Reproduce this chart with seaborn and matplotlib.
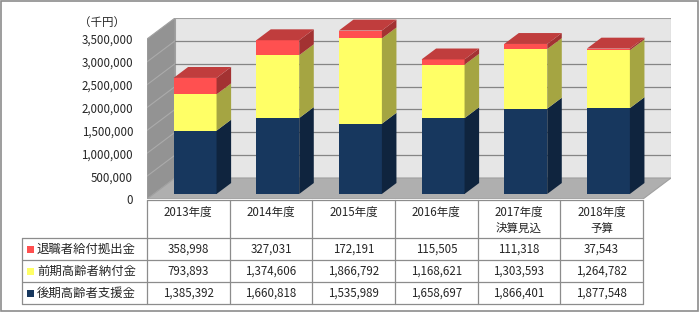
import numpy as np
import matplotlib
matplotlib.use("Agg")
import matplotlib.pyplot as plt
from matplotlib.patches import Polygon, Rectangle
import seaborn as sns

# data (千円)
years = ["2013年度", "2014年度", "2015年度", "2016年度", "2017年度\n決算見込", "2018年度\n予算"]
series_names = ["退職者給付拠出金", "前期高齢者納付金", "後期高齢者支援金"]
retire = [358998, 327031, 172191, 115505, 111318, 37543]
early = [793893, 1374606, 1866792, 1168621, 1303593, 1264782]
late = [1385392, 1660818, 1535989, 1658697, 1866401, 1877548]
y_ticks = [0, 500000, 1000000, 1500000, 2000000, 2500000, 3000000, 3500000]

# colours: front, side
c_front = {"retire": "#FF5050", "early": "#FFFF66", "late": "#17375E"}
c_side = {"retire": "#A33232", "early": "#A5A542", "late": "#0F243E"}
c_top = "#C03D3D"

sns.set_style("white")
plt.rcParams['font.family'] = ['Noto Sans CJK JP', 'DejaVu Sans']
FS = 8.3

fig = plt.figure(figsize=(7.0, 3.13), dpi=100)

# pseudo-3D geometry (depth in data units)
YMAX = 3500000
n = len(years)
px_x = 496 / n            # px per category
px_y = 160 / YMAX         # px per value
DX = 28 / px_x
DY = 21 / px_y
F0, F1 = 0.24, 0.76       # bar front / back depth fraction
BAR_W = 43 / px_x

ax = fig.add_axes([147 / 700, 1 - 199 / 313, (496 + 28) / 700, 181 / 313])
ax.set_zorder(2)
tab = fig.add_axes([0, 0, 1, 1])
tab.set_zorder(1)
tab.set_xlim(0, 700)
tab.set_ylim(313, 0)
tab.axis('off')

# stacked bars: draw cumulative totals, tallest first
cum1 = np.array(late)
cum2 = cum1 + np.array(early)
cum3 = cum2 + np.array(retire)
layers = []
for vals, key in [(cum3, "retire"), (cum2, "early"), (cum1, "late")]:
    n0 = len(ax.patches)
    sns.barplot(x=years, y=vals, color=c_front[key], saturation=1, width=BAR_W,
                linewidth=0, ax=ax, zorder=4)
    layers.append(ax.patches[n0:])

ax.set_xlim(-0.5, n - 0.5 + DX)
ax.set_ylim(0, YMAX + DY)

# shift bar fronts to the middle of the floor depth
for layer in layers:
    for p in layer:
        p.set_x(p.get_x() + F0 * DX)
        p.set_y(p.get_y() + F0 * DY)

bdx, bdy = (F1 - F0) * DX, (F1 - F0) * DY
segs = [(np.zeros(n), cum1, "late"), (cum1, cum2, "early"), (cum2, cum3, "retire")]
for i, p in enumerate(layers[0]):
    x0 = p.get_x()
    x1 = x0 + p.get_width()
    for bot, top, key in segs:
        b, t = bot[i] + F0 * DY, top[i] + F0 * DY
        ax.add_patch(Polygon([(x1, b), (x1 + bdx, b + bdy), (x1 + bdx, t + bdy), (x1, t)],
                             closed=True, facecolor=c_side[key], edgecolor='none', zorder=4))
    t = cum3[i] + F0 * DY
    ax.add_patch(Polygon([(x0, t), (x1, t), (x1 + bdx, t + bdy), (x0 + bdx, t + bdy)],
                         closed=True, facecolor=c_top, edgecolor='none', zorder=4))

# walls and floor
L, R = -0.5, n - 0.5
ax.add_patch(Polygon([(L + DX, DY), (R + DX, DY), (R + DX, YMAX + DY), (L + DX, YMAX + DY)],
                     facecolor="#E6E6E6", edgecolor="#A0A0A0", lw=0.8, zorder=1))
ax.add_patch(Polygon([(L, 0), (L + DX, DY), (L + DX, YMAX + DY), (L, YMAX)],
                     facecolor="#939393", edgecolor="#A0A0A0", lw=0.8, zorder=1))
ax.add_patch(Polygon([(L, 0), (R, 0), (R + DX, DY), (L + DX, DY)],
                     facecolor="#AFAFAF", edgecolor="#A0A0A0", lw=0.8, zorder=1))
for v in y_ticks[1:-1]:
    ax.plot([L, L + DX], [v, v + DY], color="#ABABAB", lw=0.8, zorder=2)
    ax.plot([L + DX, R + DX], [v + DY, v + DY], color="#858585", lw=0.9, zorder=2)

ax.set_yticks(y_ticks)
ax.set_yticklabels([f"{v:,}" for v in y_ticks], fontsize=FS)
ax.tick_params(axis='y', length=0, pad=10)
ax.set_xticks([])
ax.set_xlabel("")
for s in ax.spines.values():
    s.set_visible(False)
ax.patch.set_visible(False)

tab.text(102, 22, "（千円）", fontsize=FS, ha='center', va='center')

# data table below the chart
edges = [ax.transData.transform((L + i, 0))[0] for i in range(n + 1)]
lab_left = 22
head_top, head_bot, row_h = 200, 238, 22
line_c = "#8C8C8C"
lw = 0.9
tab.plot([edges[0], edges[-1]], [head_top, head_top], color=line_c, lw=lw)
for k in range(4):
    y = head_bot + k * row_h
    tab.plot([lab_left, edges[-1]], [y, y], color=line_c, lw=lw)
tab.plot([lab_left, lab_left], [head_bot, head_bot + 3 * row_h], color=line_c, lw=lw)
for e in edges:
    tab.plot([e, e], [head_top, head_bot + 3 * row_h], color=line_c, lw=lw)

for i, yr in enumerate(years):
    cx = (edges[i] + edges[i + 1]) / 2
    for k, part in enumerate(yr.split("\n")):
        tab.text(cx, 212 + 16 * k, part, fontsize=FS, ha='center', va='center')

rows = [(series_names[0], retire, "retire"), (series_names[1], early, "early"),
        (series_names[2], late, "late")]
for r, (name, vals, key) in enumerate(rows):
    cy = head_bot + row_h * (r + 0.5)
    tab.add_patch(Rectangle((27, cy - 3), 6.5, 6.5, facecolor=c_front[key], edgecolor='none'))
    tab.text(37, cy, name, fontsize=FS + 0.6, ha='left', va='center')
    for i, v in enumerate(vals):
        cx = (edges[i] + edges[i + 1]) / 2
        tab.text(cx, cy, f"{v:,}", fontsize=FS, ha='center', va='center')

tab.add_patch(Rectangle((1, 1), 697, 310, fill=False, edgecolor="#8C8C8C", lw=1.2))

fig.savefig("out.png", dpi=100)
